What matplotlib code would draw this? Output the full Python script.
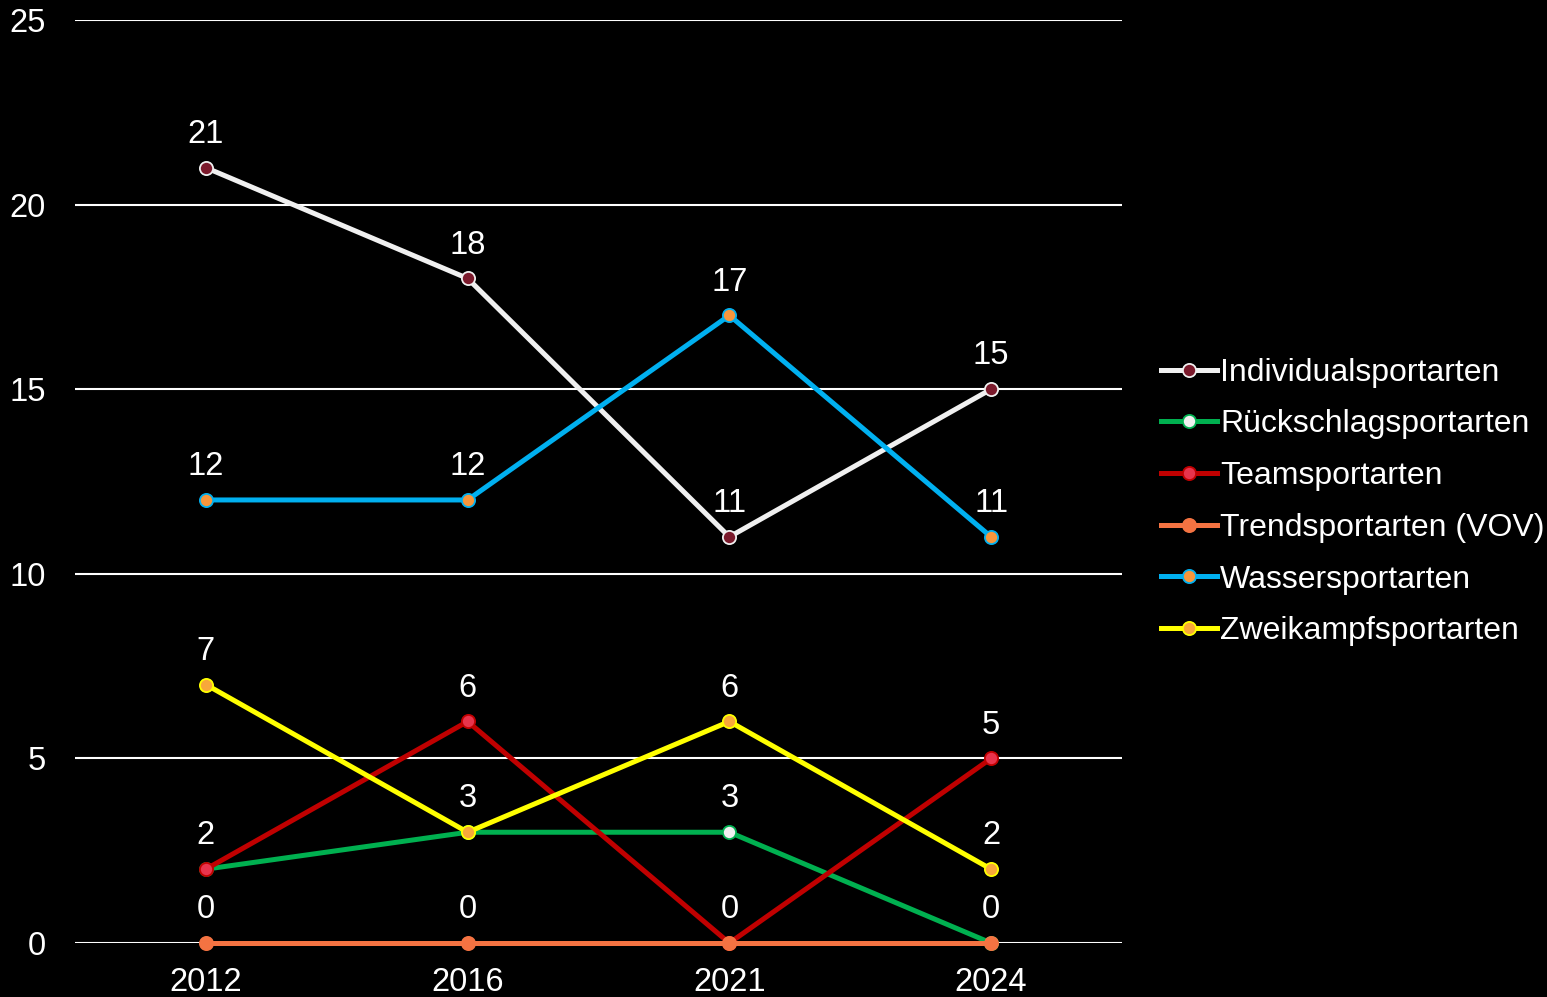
import matplotlib.pyplot as plt

plt.rcParams['font.family'] = ['Liberation Sans', 'DejaVu Sans']

years = ['2012', '2016', '2021', '2024']
individual = [21, 18, 11, 15]
rueckschlag = [2, 3, 3, 0]
team = [2, 6, 0, 5]
trend = [0, 0, 0, 0]
wasser = [12, 12, 17, 11]
zweikampf = [7, 3, 6, 2]

series = [
    ('Individualsportarten', individual, '#F0F0F0', '#7B1A2C'),
    ('Rückschlagsportarten', rueckschlag, '#00B050', '#F0F0F0'),
    ('Teamsportarten', team, '#C00000', '#E8344C'),
    ('Trendsportarten (VOV)', trend, '#F47342', '#F47342'),
    ('Wassersportarten', wasser, '#00B0F0', '#F7963C'),
    ('Zweikampfsportarten', zweikampf, '#FFFF00', '#F8A83A'),
]

fig = plt.figure(figsize=(15.47, 9.97), dpi=100, facecolor='black')
ax = fig.add_axes([75/1547, 1 - 943/997, (1122 - 75)/1547, (943 - 20)/997])
ax.set_facecolor('black')

x = list(range(len(years)))
for name, vals, col, face in series:
    ax.plot(x, vals, color=col, lw=3.6, marker='o', ms=9.5,
            mfc=face, mec=col, mew=1.3, label=name, clip_on=False, zorder=3)

# data labels, one per distinct value in each year
for i in x:
    seen = set()
    for name, vals, col, face in series:
        v = vals[i]
        if v in seen:
            continue
        seen.add(v)
        ax.annotate(str(v), (i, v), xytext=(0, 24), textcoords='offset points',
                    ha='center', va='center', color='white', fontsize=23.5)

ax.set_xlim(-0.5, 3.5)
ax.set_ylim(0, 25)
ax.set_yticks([0, 5, 10, 15, 20, 25])
ax.set_xticks(x)
ax.set_xticklabels(years)
ax.yaxis.grid(True, color='white', lw=1.5)
ax.set_axisbelow(True)
for s in ax.spines.values():
    s.set_visible(False)
ax.tick_params(axis='both', length=0, colors='white', labelsize=23.5)
ax.tick_params(axis='y', pad=21)
ax.tick_params(axis='x', pad=17)

leg = fig.legend(loc='center left', bbox_to_anchor=(1161/1547, 1 - 502/997),
                 frameon=False, fontsize=23, handlelength=1.75,
                 handletextpad=0.1, labelspacing=0.68, borderaxespad=0,
                 borderpad=0)
for t in leg.get_texts():
    t.set_color('white')

fig.savefig('out.png', dpi=100, facecolor='black')
